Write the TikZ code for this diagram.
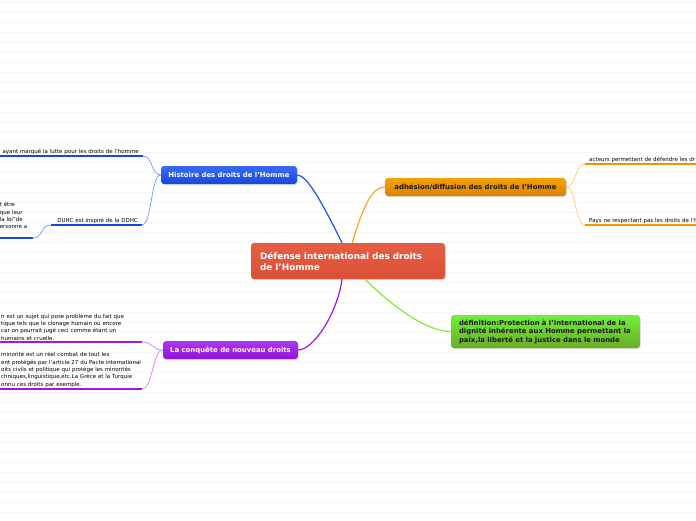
\documentclass[tikz,border=0pt]{standalone}
\usepackage{fontspec}
\setmainfont{DejaVu Sans}
\usetikzlibrary{shadows}
\definecolor{mapblue}{RGB}{25,80,245}
\definecolor{maporange}{RGB}{245,150,0}
\definecolor{mappurple}{RGB}{160,20,240}
\definecolor{mapgreen}{RGB}{140,230,50}
\definecolor{mapred}{RGB}{230,85,58}
\definecolor{ruleline}{RGB}{245,245,245}

\begin{document}
\begin{tikzpicture}[x=1pt, y=-1pt,
    topic/.style={rectangle, rounded corners=3pt, inner sep=0pt, minimum height=18pt,
                  font=\fontsize{6.9}{8.5}\selectfont\bfseries,
                  drop shadow={shadow xshift=0.8pt, shadow yshift=-1.2pt, opacity=0.25}},
    leaf/.style={font=\fontsize{5.5}{7.3}\selectfont, inner xsep=4pt, inner ysep=1.5pt},
    conn/.style={line width=1.2pt},
    sub/.style={line width=0.7pt},
    uline/.style={line width=2.6pt}
]
\useasboundingbox (0,0) rectangle (696,520);
\clip (0,0) rectangle (696,520);

% ruled background
\foreach \y in {2,12,...,522}
  \draw[ruleline, line width=1pt] (0,\y) -- (696,\y);

% central topic
\node[topic, top color=mapred!95!white, bottom color=mapred!95!black, text=white,
      minimum width=194pt, minimum height=36pt, text width=176pt, align=left,
      font=\fontsize{8.9}{11}\selectfont\bfseries] (defense) at (348,261)
     {Défense international des droits\\de l'Homme};

% main topics
\node[topic, top color=mapblue!85!white, bottom color=mapblue!90!black, text=white,
      minimum width=136pt] (histoire) at (229,175) {Histoire des droits de l'Homme};
\node[topic, top color=maporange!90!yellow, bottom color=maporange!88!black, text=black!90,
      minimum width=181pt] (adhesion) at (475.5,187) {adhésion/diffusion des droits de l'Homme};
\node[topic, top color=mapgreen!70!green!90!white, bottom color=mapgreen!75!black, text=black!90,
      minimum width=189pt, minimum height=33pt, text width=173pt, align=left] (definition) at (545.5,331.5)
     {définition:Protection à l'international de la\\dignité inhérente aux Homme permettant la\\paix,la liberté et la justice dans le monde};
\node[topic, top color=mappurple!85!white, bottom color=mappurple!90!black, text=white,
      minimum width=135pt] (conquete) at (230.5,350) {La conquête de nouveau droits};

% connectors from the centre
\draw[conn, mapblue] (defense.108) .. controls +(-20,-40) and +(10,0) .. (histoire.east);
\draw[conn, maporange!85!white] (defense.77) .. controls +(12,-40) and +(-12,0) .. (adhesion.west);
\draw[conn, mappurple] (defense.252) .. controls +(-5,35) and +(15,0) .. (conquete.east);
\draw[conn, mapgreen] (defense.313) .. controls +(15,15) and +(-30,0) .. (definition.west);

% leaves: histoire
\node[leaf, anchor=south east, text width=150pt, align=right] (lutte) at (143,156)
     {ayant marqué la lutte pour les droits de l'homme};
\node[leaf, anchor=south east, text width=83pt, align=right] (duhc) at (142,225)
     {DUHC est inspiré de la DDHC};
\node[leaf, anchor=south east, text width=29pt, align=left, inner ysep=9pt] (duhcsub) at (33,238)
     {t être\\que leur\\la loi"de\\ersonne a};
\draw[uline, mapblue!90!black] (lutte.south west) -- (lutte.south east);
\draw[uline, mapblue!90!black] (duhc.south west) -- (duhc.south east);
\draw[uline, mapblue!90!black] (duhcsub.south west) -- (duhcsub.south east);
\draw[sub, mapblue!60] (histoire.west) .. controls +(-10,0) and +(10,0) .. (lutte.south east);
\draw[sub, mapblue!60] (histoire.west) .. controls +(-10,0) and +(10,0) .. (duhc.south east);
\draw[sub, mapblue!60] (duhc.south west) .. controls +(-10,0) and +(10,0) .. (duhcsub.south east);

% leaves: adhesion
\node[leaf, anchor=south west, text width=150pt, align=left] (acteurs) at (585,164)
     {acteurs permettant de défendre les dr};
\node[leaf, anchor=south west, text width=150pt, align=left] (pays) at (585,225)
     {Pays ne respectant pas les droits de l'H};
\draw[uline, maporange] (acteurs.south west) -- (acteurs.south east);
\draw[uline, maporange] (pays.south west) -- (pays.south east);
\draw[sub, maporange!50] (adhesion.east) .. controls +(10,0) and +(-10,0) .. (acteurs.south west);
\draw[sub, maporange!50] (adhesion.east) .. controls +(10,0) and +(-10,0) .. (pays.south west);

% leaves: conquete
\node[leaf, anchor=south west, text width=137pt, align=left] (clonage) at (-3,342)
     {n est un sujet qui pose problème du fait que\\tique tels que le clonage humain ou encore\\ car on pourrait jugé ceci comme étant un\\ humains et cruelle.};
\node[leaf, anchor=south west, text width=137pt, align=left] (minorite) at (-3,389)
     { minorité est un réel combat de tout les\\\mbox{ent protégés par l'article 27 du Pacte international}\\oits civils et politique qui protège les minorités\\chniques,linguistique,etc.La Grèce et la Turquie\\onnu ces droits par exemple.};
\draw[uline, mappurple] (clonage.south west) -- (clonage.south east);
\draw[uline, mappurple] (minorite.south west) -- (minorite.south east);
\draw[sub, mappurple!55] (conquete.west) .. controls +(-10,0) and +(10,0) .. (clonage.south east);
\draw[sub, mappurple!55] (conquete.west) .. controls +(-10,0) and +(10,0) .. (minorite.south east);

\end{tikzpicture}
\end{document}
